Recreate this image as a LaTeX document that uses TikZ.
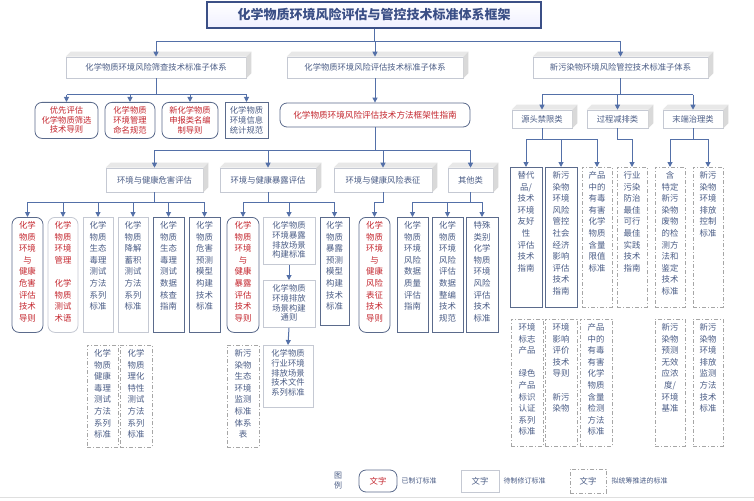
\documentclass[tikz,border=0pt]{standalone}
\usepackage{fontspec}
\setmainfont{Noto Sans CJK SC}
\usetikzlibrary{arrows.meta}
\definecolor{txt}{HTML}{4B5D86}
\definecolor{rd}{HTML}{C4262E}
\definecolor{dk}{HTML}{5B6B8C}
\definecolor{lt}{HTML}{C5C9D3}
\definecolor{ln}{HTML}{5470A8}
\definecolor{tb}{HTML}{3B4F86}
\tikzset{
 redb/.style={draw=dk, line width=0.8pt, rounded corners=7pt, text=rd, fill=white},
 redl/.style={draw=lt, line width=0.8pt, rounded corners=7pt, text=rd, fill=white},
 ltb/.style={draw=lt, line width=0.8pt, text=txt, fill=white},
 dkb/.style={draw=dk, line width=0.9pt, text=txt, fill=white},
 dsb/.style={draw=gray!70, line width=0.7pt, dash pattern=on 4pt off 2pt on 1pt off 2pt, text=txt, fill=white},
 hdr/.style={draw=lt, line width=0.6pt, text=txt, fill=white, inner sep=0pt, font=\fontsize{8.3}{10}\selectfont},
 cn/.style={draw=ln, line width=1pt},
 ar/.style={draw=ln, line width=1pt, -{Triangle[length=5pt,width=5pt]}},
}
\newcommand\bx[7]{\node[#6, minimum width={(#4-#2)*1pt}, minimum height={(#5-#3)*1pt}, inner xsep=0pt, inner ysep=4pt, anchor=north, font=\fontsize{8.4}{11.6}\selectfont] (#1) at ({(#2+#4)/2},#3) {\parbox[t][\dimexpr #5pt-#3pt-8pt\relax][t]{\dimexpr #4pt-#2pt\relax}{\centering #7}};}
\newcommand\hb[6]{\node[hdr, minimum width={(#4-#2)*1pt}, minimum height={(#5-#3)*1pt}] (#1) at ({(#2+#4)/2},{(#3+#5)/2}) {#6};
 \fill[gray!18] (#1.north west) -- ++(5pt,5pt) -- ([shift={(5pt,5pt)}]#1.north east) -- (#1.north east) -- cycle;
 \fill[gray!30] (#1.north east) -- ++(5pt,5pt) -- ([shift={(5pt,5pt)}]#1.south east) -- (#1.south east) -- cycle;}
\newcommand\tight{\fontsize{8.3}{9.8}\selectfont}
\begin{document}
\begin{tikzpicture}[x=1pt,y=-1pt]
\useasboundingbox[fill=white] (0,0) rectangle (754,500);
% title
\node[draw=tb, line width=1.6pt, top color=white, bottom color=blue!6, text=tb, minimum width=334pt, minimum height=26pt, font=\fontsize{13}{15}\selectfont\bfseries] (T) at (374,15) {化学物质环境风险评估与管控技术标准体系框架};
% level 1
\hb{A}{66}{57}{246}{78}{化学物质环境风险筛查技术标准子体系}
\hb{B}{287}{57}{463}{78}{化学物质环境风险评估技术标准子体系}
\hb{C}{533}{57}{708}{78}{新污染物环境风险管控技术标准子体系}
\draw[cn] (T.south) -- (T.south |- 0,42);
\draw[cn] (A.north |- 0,42) -- (C.north |- 0,42);
\foreach \n in {A,B,C}{\draw[ar] (\n.north |- 0,42) -- (\n.north);}
% under A
\bx{a1}{35}{102}{98}{138}{redb}{\tight 优先评估\\化学物质筛选\\技术导则}
\bx{a2}{105}{102}{155}{138}{redb}{\tight 化学物质\\环境管理\\命名规范}
\bx{a3}{162}{102}{218}{138}{redb}{\tight 新化学物质\\申报类名编\\制导则}
\bx{a4}{225}{102}{268}{138}{dkb}{\tight 化学物质\\环境信息\\统计规范}
\draw[cn] (A.south) -- (A.south |- 0,95);
\draw[cn] (a1.north |- 0,95) -- (a4.north |- 0,95);
\foreach \n in {a1,a2,a3,a4}{\draw[ar] (\n.north |- 0,95) -- (\n.north);}
% under B
\node[redb, minimum width=190pt, minimum height=24pt, font=\fontsize{8.6}{10}\selectfont] (F) at (375,115) {化学物质环境风险评估技术方法框架性指南};
\draw[ar] (B.south) -- (F.north);
\hb{b1}{106}{168}{203}{192}{环境与健康危害评估}
\hb{b2}{220}{168}{316}{192}{环境与健康暴露评估}
\hb{b3}{334}{168}{432}{192}{环境与健康风险表征}
\hb{b4}{448}{168}{493}{192}{其他类}
\draw[cn] (F.south) -- (F.south |- 0,150);
\draw[cn] (b1.north |- 0,150) -- (b4.north |- 0,150);
\foreach \n in {b1,b2,b3,b4}{\draw[ar] (\n.north |- 0,150) -- (\n.north);}
% under b1
\bx{c1}{12}{217}{43}{332}{redb}{化学\\物质\\环境\\与\\健康\\危害\\评估\\技术\\导则}
\bx{c2}{48}{217}{78}{332}{redl}{化学\\物质\\环境\\管理\\[11.6pt]化学\\物质\\测试\\术语}
\bx{c3}{83}{217}{113}{332}{ltb}{化学\\物质\\生态\\毒理\\测试\\方法\\系列\\标准}
\bx{c4}{118}{217}{148}{332}{ltb}{化学\\物质\\降解\\蓄积\\测试\\方法\\系列\\标准}
\bx{c5}{153}{217}{184}{332}{dkb}{化学\\物质\\生态\\毒理\\测试\\数据\\核查\\指南}
\bx{c6}{189}{217}{220}{332}{dkb}{化学\\物质\\危害\\预测\\模型\\构建\\技术\\标准}
\draw[cn] (b1.south) -- (b1.south |- 0,202);
\draw[cn] (c1.north |- 0,202) -- (c6.north |- 0,202);
\foreach \n in {c1,c2,c3,c4,c5,c6}{\draw[ar] (\n.north |- 0,202) -- (\n.north);}
\bx{k1}{87}{345}{118}{447}{dsb}{化学\\物质\\健康\\毒理\\测试\\方法\\系列\\标准}
\bx{k2}{120}{345}{152}{447}{dsb}{化学\\物质\\理化\\特性\\测试\\方法\\系列\\标准}
% under b2
\bx{d1}{227}{217}{259}{332}{redb}{化学\\物质\\环境\\与\\健康\\暴露\\评估\\技术\\导则}
\bx{d2}{263}{217}{315}{264}{ltb}{\tight 化学物质\\环境暴露\\排放场景\\构建标准}
\bx{d3}{263}{280}{315}{327}{ltb}{\tight 化学物质\\环境排放\\场景构建\\通则}
\bx{d4}{263}{345}{313}{407}{ltb}{\tight 化学物质\\行业环境\\排放场景\\技术文件\\系列标准}
\bx{d5}{320}{217}{349}{325}{dkb}{化学\\物质\\暴露\\预测\\模型\\构建\\技术\\标准}
\bx{d6}{227}{345}{259}{447}{dsb}{新污\\染物\\生态\\环境\\监测\\标准\\体系\\表}
\draw[cn] (b2.south) -- (b2.south |- 0,202);
\draw[cn] (d1.north |- 0,202) -- (d5.north |- 0,202);
\foreach \n in {d1,d2,d5}{\draw[ar] (\n.north |- 0,202) -- (\n.north);}
\draw[ar] (d2.south) -- (d3.north);
\draw[ar] (d3.south) -- (d4.north);
% under b3
\bx{e1}{359}{217}{390}{332}{redb}{化学\\物质\\环境\\与\\健康\\风险\\表征\\技术\\导则}
\draw[cn] (b3.south) -- (b3.south |- 0,202) -- (e1.north |- 0,202);
\draw[ar] (e1.north |- 0,202) -- (e1.north);
% under b4
\bx{f1}{397}{217}{428}{332}{dkb}{化学\\物质\\环境\\风险\\数据\\质量\\评估\\指南}
\bx{f2}{432}{217}{463}{332}{dkb}{化学\\物质\\环境\\风险\\评估\\数据\\整编\\技术\\规范}
\bx{f3}{466}{217}{498}{332}{dkb}{特殊\\类别\\化学\\物质\\环境\\风险\\评估\\技术\\标准}
\draw[cn] (b4.south) -- (b4.south |- 0,202);
\draw[cn] (f1.north |- 0,202) -- (f3.north |- 0,202);
\foreach \n in {f1,f2,f3}{\draw[ar] (\n.north |- 0,202) -- (\n.north);}
% under C
\hb{g1}{512}{110}{572}{128}{源头禁限类}
\hb{g2}{587}{110}{648}{128}{过程减排类}
\hb{g3}{663}{110}{723}{128}{末端治理类}
\draw[cn] (C.south) -- (C.south |- 0,95);
\draw[cn] (g1.north |- 0,95) -- (g3.north |- 0,95);
\foreach \n in {g1,g2,g3}{\draw[ar] (\n.north |- 0,95) -- (\n.north);}
\bx{h1}{510}{167}{542}{307}{dkb}{替代\\品/\\技术\\环境\\友好\\性\\评估\\技术\\指南}
\bx{h2}{545}{167}{577}{307}{dkb}{新污\\染物\\环境\\风险\\管控\\社会\\经济\\影响\\评估\\技术\\指南}
\bx{h3}{582}{167}{612}{307}{dsb}{产品\\中的\\有毒\\有害\\化学\\物质\\含量\\限值\\标准}
\bx{h4}{617}{167}{647}{307}{dsb}{行业\\污染\\防治\\最佳\\可行\\最佳\\实践\\技术\\指南}
\bx{h5}{655}{167}{685}{307}{dsb}{含\\特定\\新污\\染物\\废物\\的检\\测方\\法和\\鉴定\\技术\\标准}
\bx{h6}{693}{167}{723}{307}{dsb}{新污\\染物\\环境\\排放\\控制\\标准}
\draw[cn] (g1.south) -- (g1.south |- 0,139);
\draw[cn] (h1.north |- 0,139) -- (h3.north |- 0,139);
\foreach \n in {h1,h2,h3}{\draw[ar] (\n.north |- 0,139) -- (\n.north);}
\draw[cn] (g2.south) -- (g2.south |- 0,139) -- (h4.north |- 0,139);
\draw[ar] (h4.north |- 0,139) -- (h4.north);
\draw[cn] (g3.south) -- (g3.south |- 0,139);
\draw[cn] (h5.north |- 0,139) -- (h6.north |- 0,139);
\foreach \n in {h5,h6}{\draw[ar] (\n.north |- 0,139) -- (\n.north);}
\bx{i1}{511}{319}{543}{446}{dsb}{环境\\标志\\产品\\[11.6pt]绿色\\产品\\标识\\认证\\系列\\标准}
\bx{i2}{545}{319}{577}{446}{dsb}{环境\\影响\\评价\\技术\\导则\\[11.6pt]新污\\染物}
\bx{i3}{580}{319}{612}{446}{dsb}{产品\\中的\\有毒\\有害\\化学\\物质\\含量\\检测\\方法\\标准}
\bx{i4}{655}{319}{685}{446}{dsb}{新污\\染物\\预测\\无效\\应浓\\度/\\环境\\基准}
\bx{i5}{693}{319}{723}{446}{dsb}{新污\\染物\\环境\\排放\\监测\\方法\\技术\\标准}
% legend
\node[text=txt, align=center, font=\fontsize{8}{10}\selectfont] (L) at (338,481) {图\\例};
\node[redb, minimum width=38pt, minimum height=22pt, font=\fontsize{8.4}{10}\selectfont] (L1) at (378,481) {文字};
\node[text=txt, anchor=west, font=\fontsize{7}{8}\selectfont] (L1t) at (398,481) {已制订标准};
\node[ltb, minimum width=38pt, minimum height=22pt, font=\fontsize{8.4}{10}\selectfont] (L2) at (480,481) {文字};
\node[text=txt, anchor=west, font=\fontsize{7}{8}\selectfont] (L2t) at (500,481) {待制修订标准};
\node[dsb, minimum width=36pt, minimum height=24pt, font=\fontsize{8.4}{10}\selectfont] (L3) at (588,481) {文字};
\node[text=txt, anchor=west, font=\fontsize{7}{8}\selectfont] (L3t) at (608,481) {拟统筹推进的标准};
\draw[gray!25, line width=0.6pt] (0,497) -- (754,497);
\end{tikzpicture}
\end{document}
